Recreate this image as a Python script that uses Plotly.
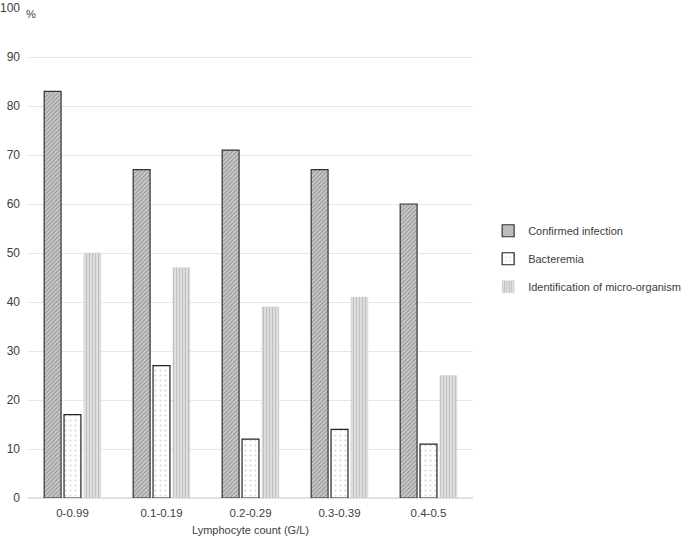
import plotly.graph_objects as go

categories = ["0-0.99", "0.1-0.19", "0.2-0.29", "0.3-0.39", "0.4-0.5"]
confirmed = [83, 67, 71, 67, 60]
bacteremia = [17, 27, 12, 14, 11]
identification = [50, 47, 39, 41, 25]
y_ticks = [0, 10, 20, 30, 40, 50, 60, 70, 80, 90, 100]

fig = go.Figure()
fig.add_trace(go.Bar(
    x=categories, y=confirmed, name="Confirmed infection", legendgroup="a",
    marker=dict(color="#c0c0c0", line=dict(color="#333333", width=1.2),
                pattern=dict(shape="/", fgcolor="#5a5a5a", bgcolor="#cacaca", size=3, solidity=0.35)),
))
fig.add_trace(go.Bar(
    x=categories, y=bacteremia, name="Bacteremia", legendgroup="b",
    marker=dict(color="white", line=dict(color="#222222", width=1.2),
                pattern=dict(shape=".", fgcolor="#b0b0b0", bgcolor="white", size=5, solidity=0.15)),
))
fig.add_trace(go.Bar(
    x=categories, y=identification, name="Identification of micro-organism", legendgroup="c",
    marker=dict(color="#d8d8d8", line=dict(color="#d0d0d0", width=0.5),
                pattern=dict(shape="|", fgcolor="#9a9a9a", bgcolor="#e2e2e2", size=3, solidity=0.4)),
))

fig.update_layout(
    width=685, height=538,
    margin=dict(l=28, r=212, t=8, b=40, autoexpand=False),
    paper_bgcolor="white", plot_bgcolor="white",
    barmode="group", bargap=0.33, bargroupgap=0.15,
    font=dict(family="Liberation Sans, Arial, sans-serif", size=11, color="#404040"),
    showlegend=True,
    legend=dict(x=1.034, y=0.575, xanchor="left", yanchor="top",
                font=dict(size=11, color="#404040"), tracegroupgap=9,
                bgcolor="rgba(0,0,0,0)"),
    xaxis=dict(showgrid=False, showline=False, ticks="", automargin=False,
               tickfont=dict(size=11.5, color="#404040"), ticklabelstandoff=6,
               title=dict(text="Lymphocyte count (G/L)", font=dict(size=11, color="#404040"), standoff=8)),
    yaxis=dict(range=[0, 100], tickvals=y_ticks, showgrid=True, gridcolor="#e6e6e6", gridwidth=1,
               zeroline=True, zerolinecolor="#e0e0e0", showline=False, ticks="", automargin=False,
               tickfont=dict(size=12, color="#404040"), ticklabelstandoff=7),
    annotations=[dict(text="%", x=0, y=100, xref="paper", yref="y", xanchor="left", yanchor="top",
                      xshift=-4, yshift=2, showarrow=False, font=dict(size=11, color="#404040"))],
)

fig.write_html("out.html", config={"displayModeBar": False},
               post_script="document.body.style.margin='0';")
